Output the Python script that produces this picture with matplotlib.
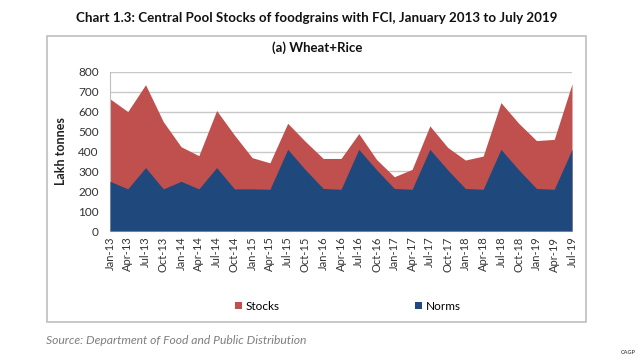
import matplotlib
matplotlib.use('Agg')
import matplotlib.pyplot as plt
from matplotlib.patches import Rectangle, Patch

plt.rcParams['font.family'] = ['Lato', 'DejaVu Sans']

# quarterly labels, Jan-13 .. Jul-19
quarters = ['Jan-13', 'Apr-13', 'Jul-13', 'Oct-13', 'Jan-14', 'Apr-14', 'Jul-14',
            'Oct-14', 'Jan-15', 'Apr-15', 'Jul-15', 'Oct-15', 'Jan-16', 'Apr-16',
            'Jul-16', 'Oct-16', 'Jan-17', 'Apr-17', 'Jul-17', 'Oct-17', 'Jan-18',
            'Apr-18', 'Jul-18', 'Oct-18', 'Jan-19', 'Apr-19', 'Jul-19']

# lakh tonnes
stocks = [665, 601, 736, 550, 424, 379, 606, 483, 369, 343, 542, 450, 365, 365,
          490, 360, 273, 310, 529, 421, 357, 377, 646, 542, 455, 461, 740]
norms = [250, 212, 319, 212, 250, 212, 319, 212, 212, 210, 411, 308, 214, 210,
         411, 308, 214, 210, 411, 308, 214, 210, 411, 308, 214, 210, 411]

RED = '#C0504D'
BLUE = '#1F497D'

fig = plt.figure(figsize=(6.4, 3.6), dpi=100)
ax = fig.add_axes([110 / 640, 1 - 231 / 360, 462 / 640, 159 / 360])

x = list(range(len(quarters)))
ax.fill_between(x, stocks, 0, color=RED, linewidth=0, zorder=2)
ax.fill_between(x, norms, 0, color=BLUE, linewidth=0, zorder=3)

ax.set_xlim(0, len(quarters) - 1)
ax.set_ylim(0, 800)
ax.set_yticks(range(0, 801, 100))
ax.set_xticks(x)
ax.set_xticklabels(quarters, rotation=90, fontsize=8, color='#333333')
ax.tick_params(axis='y', labelsize=8.5, colors='#333333', length=0, pad=8)
ax.tick_params(axis='x', length=0, pad=4)
ax.grid(axis='y', color='#C8C8C8', linewidth=1, zorder=1)
ax.set_axisbelow(True)
for side in ['top', 'right']:
    ax.spines[side].set_visible(False)
for side in ['left', 'bottom']:
    ax.spines[side].set_color('#BFBFBF')
ax.set_ylabel('Lakh tonnes', fontsize=9, fontweight='bold', color='#222222', labelpad=8)

# outer chart box
fig.patches.append(Rectangle((47 / 640, 1 - 322 / 360), 539 / 640, 286 / 360,
                             transform=fig.transFigure, fill=False,
                             edgecolor='#BFBFBF', linewidth=1.2))

fig.text(317 / 640, 1 - 18 / 360,
         'Chart 1.3: Central Pool Stocks of foodgrains with FCI, January 2013 to July 2019',
         ha='center', va='center', fontsize=9.6, fontweight='bold', color='#111111')
fig.text(317 / 640, 1 - 48 / 360, '(a) Wheat+Rice', ha='center', va='center',
         fontsize=9.5, fontweight='bold', color='#111111')

handles = [Patch(facecolor=RED, label='Stocks'), Patch(facecolor=BLUE, label='Norms')]
fig.legend(handles=handles, loc='center', bbox_to_anchor=(348 / 640, 1 - 306 / 360),
           ncol=2, frameon=False, fontsize=8.5, columnspacing=11.5, handlelength=0.6,
           handleheight=0.6, handletextpad=0.3)

fig.text(46 / 640, 1 - 341 / 360, 'Source: Department of Food and Public Distribution',
         ha='left', va='center', fontsize=8.7, style='italic', color='#7F7F7F')
fig.text(628 / 640, 1 - 352 / 360, 'CAGP', ha='center', va='center', fontsize=4,
         fontweight='bold', color='#555555')

fig.savefig('out.png', dpi=100)
